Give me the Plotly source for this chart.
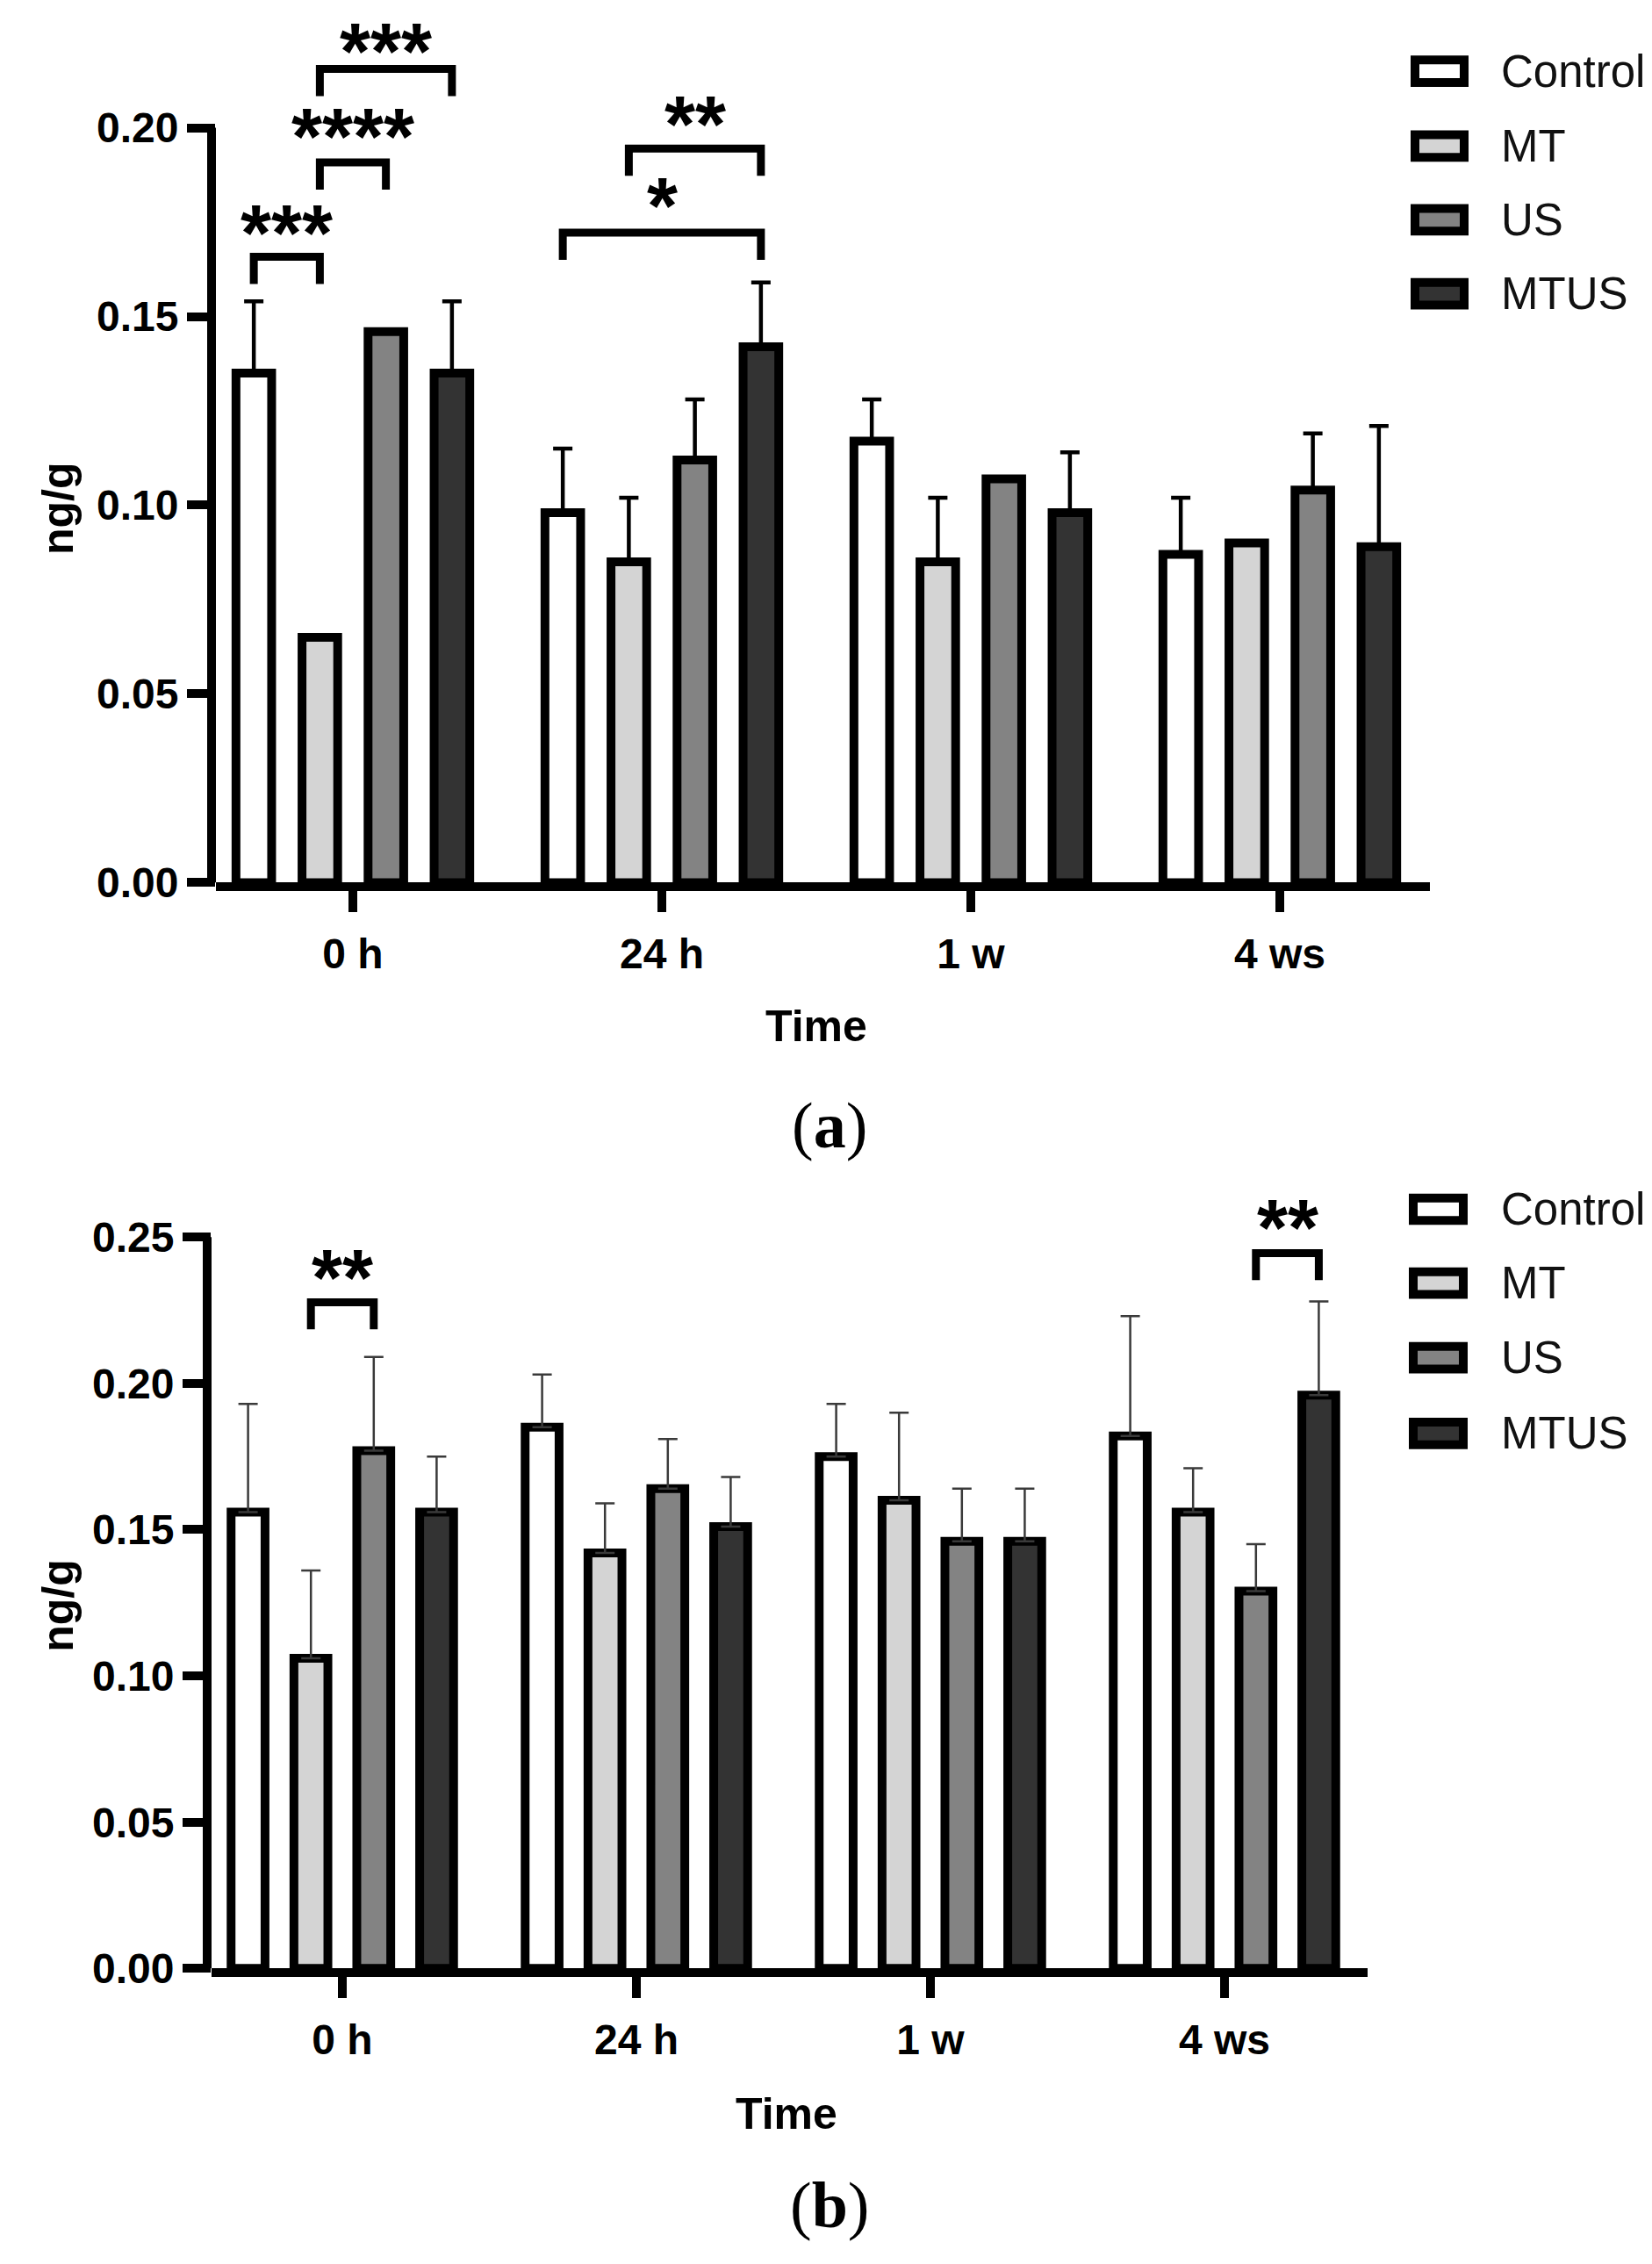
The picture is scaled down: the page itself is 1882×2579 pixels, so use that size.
import plotly.graph_objects as go

W, H = 1882, 2579

times = ["0 h", "24 h", "1 w", "4 ws"]
groups = ["Control", "MT", "US", "MTUS"]
fills = ["#ffffff", "#d4d4d4", "#838383", "#333333"]

# panel (a): means and upper SD
a_control = [0.135, 0.098, 0.117, 0.087]
a_mt = [0.065, 0.085, 0.085, 0.090]
a_us = [0.146, 0.112, 0.107, 0.104]
a_mtus = [0.135, 0.142, 0.098, 0.089]
a_control_sd = [0.019, 0.017, 0.011, 0.015]
a_mt_sd = [0.0, 0.017, 0.017, 0.0]
a_us_sd = [0.0, 0.016, 0.0, 0.015]
a_mtus_sd = [0.019, 0.017, 0.016, 0.032]

# panel (b)
b_control = [0.156, 0.185, 0.175, 0.182]
b_mt = [0.106, 0.142, 0.160, 0.156]
b_us = [0.177, 0.164, 0.146, 0.129]
b_mtus = [0.156, 0.151, 0.146, 0.196]
b_control_sd = [0.037, 0.018, 0.018, 0.041]
b_mt_sd = [0.030, 0.017, 0.030, 0.015]
b_us_sd = [0.032, 0.017, 0.018, 0.016]
b_mtus_sd = [0.019, 0.017, 0.018, 0.032]

# significance brackets: (time index, group from, group to, bracket level, label level, label)
a_sig = [(0, 0, 1, 0.1658, 0.1738, "***"),
         (0, 1, 2, 0.1908, 0.1995, "****"),
         (0, 1, 3, 0.2156, 0.2220, "***"),
         (1, 0, 3, 0.1722, 0.1810, "*"),
         (1, 1, 3, 0.1945, 0.2028, "**")]
b_sig = [(0, 1, 2, 0.2277, 0.2384, "**"),
         (3, 2, 3, 0.2445, 0.2554, "**")]

BARGAP = 0.145
FONT = "Liberation Sans, Arial, sans-serif"
LW = 10


def px(x):
    return x / W


def py(y):
    return min(1.0, max(0.0, 1 - y / H))


panels = [
    dict(xa="x", ya="y", means=[a_control, a_mt, a_us, a_mtus],
         sds=[a_control_sd, a_mt_sd, a_us_sd, a_mtus_sd], sig=a_sig,
         leg=0.0072, ebw=4.5, ebc="#000000", ytop=0.20, ymax=0.231,
         xl=238, xr=1621, c0=394, step=352, y0=1008, yunit=4345,
         tvals=[0, 0.05, 0.10, 0.15, 0.20]),
    dict(xa="x2", ya="y2", means=[b_control, b_mt, b_us, b_mtus],
         sds=[b_control_sd, b_mt_sd, b_us_sd, b_mtus_sd], sig=b_sig,
         leg=0.0092, ebw=2.5, ebc="#3a3a3a", ytop=0.25, ymax=0.262,
         xl=233, xr=1550, c0=382, step=335, y0=2258, yunit=3368,
         tvals=[0, 0.05, 0.10, 0.15, 0.20, 0.25]),
]

fig = go.Figure()
shapes = []
annotations = []
pitch = (1 - BARGAP) / 4

for p in panels:
    for g, name in enumerate(groups):
        fig.add_trace(go.Bar(
            x=list(range(len(times))), y=p["means"][g], name=name,
            xaxis=p["xa"], yaxis=p["ya"], showlegend=False,
            marker=dict(color=fills[g], line=dict(color="#000000", width=LW)),
            error_y=dict(type="data", array=p["sds"][g], arrayminus=[0] * 4,
                         symmetric=False, color=p["ebc"],
                         thickness=p["ebw"], width=11),
        ))
    for t, g1, g2, lvl, lab_y, lab in p["sig"]:
        x1 = t + (g1 - 1.5) * pitch
        x2 = t + (g2 - 1.5) * pitch
        fig.add_trace(go.Scatter(
            x=[x1, x1, x2, x2], y=[lvl - p["leg"], lvl, lvl, lvl - p["leg"]],
            mode="lines", line=dict(color="#000000", width=9),
            xaxis=p["xa"], yaxis=p["ya"], showlegend=False, hoverinfo="skip"))
        annotations.append(dict(
            x=(x1 + x2) / 2, y=lab_y, xref=p["xa"], yref=p["ya"], text=lab,
            showarrow=False, yanchor="middle", yshift=-8,
            font=dict(family=FONT, size=90, color="#000000", weight="bold")))
    # y axis line stops at the top tick
    shapes.append(dict(type="line", xref="paper", yref=p["ya"],
                       x0=px(p["xl"] - LW / 2), x1=px(p["xl"] - LW / 2),
                       y0=0, y1=p["ytop"],
                       line=dict(color="#000000", width=LW)))

layout_axes = {}
for i, p in enumerate(panels):
    sfx = "" if i == 0 else "2"
    lo = (p["xl"] - p["c0"]) / p["step"]
    hi = (p["xr"] - p["c0"]) / p["step"]
    layout_axes["xaxis" + sfx] = dict(
        domain=[px(p["xl"]), px(p["xr"])], range=[lo, hi], anchor="y" + sfx,
        tickvals=list(range(len(times))), ticktext=times,
        showline=True, linecolor="#000000", linewidth=LW,
        ticks="outside", ticklen=24, tickwidth=10, tickcolor="#000000",
        showgrid=False, zeroline=False, ticklabelstandoff=6,
        tickfont=dict(family=FONT, size=48, color="#000000", weight="bold"))
    layout_axes["yaxis" + sfx] = dict(
        domain=[py(p["y0"]), py(p["y0"] - p["ymax"] * p["yunit"])],
        range=[0, p["ymax"]], anchor="x" + sfx,
        tickvals=p["tvals"], tickformat=".2f",
        showline=False, ticks="outside", ticklen=32, tickwidth=10,
        tickcolor="#000000", showgrid=False, zeroline=False,
        tickfont=dict(family=FONT, size=48, color="#000000", weight="bold"))

# legends, drawn by hand so the boxes keep their wide shape
legend_rows = [(1599, 1665, [74, 160, 245, 330]), (1597, 1664, [1384, 1469, 1555, 1642])]
for bx0, bx1, rows in legend_rows:
    for g, yc in enumerate(rows):
        shapes.append(dict(type="rect", xref="paper", yref="paper",
                           x0=px(bx0 + 5), x1=px(bx1 - 5),
                           y0=py(yc + 13), y1=py(yc - 13),
                           fillcolor=fills[g], line=dict(color="#000000", width=LW)))
        annotations.append(dict(x=px(1700), y=py(yc), xref="paper", yref="paper",
                                text=groups[g], showarrow=False,
                                xanchor="left", yanchor="middle",
                                font=dict(family=FONT, size=51, color="#111111")))

# axis titles and panel letters
for txt, x, y, ang in [("ng/g", 58, 577, -90), ("Time", 922, 1173, 0),
                       ("ng/g", 58, 1840, -90), ("Time", 888, 2425, 0)]:
    annotations.append(dict(x=px(x), y=py(y), xref="paper", yref="paper", text=txt,
                            showarrow=False, textangle=ang,
                            xanchor="center", yanchor="middle",
                            font=dict(family=FONT, size=50, color="#000000", weight="bold")))
for txt, y in [("(<b>a</b>)", 1287), ("(<b>b</b>)", 2530)]:
    annotations.append(dict(x=px(937), y=py(y), xref="paper", yref="paper", text=txt,
                            showarrow=False, xanchor="center", yanchor="middle",
                            font=dict(family="Liberation Serif, Times New Roman, serif",
                                      size=74, color="#000000")))

fig.update_layout(
    width=W, height=H, autosize=False,
    margin=dict(l=0, r=0, t=0, b=0),
    paper_bgcolor="#ffffff", plot_bgcolor="#ffffff",
    barmode="group", bargap=BARGAP, bargroupgap=0.46,
    shapes=shapes, annotations=annotations,
    **layout_axes,
)

fig.write_html("out.html")
